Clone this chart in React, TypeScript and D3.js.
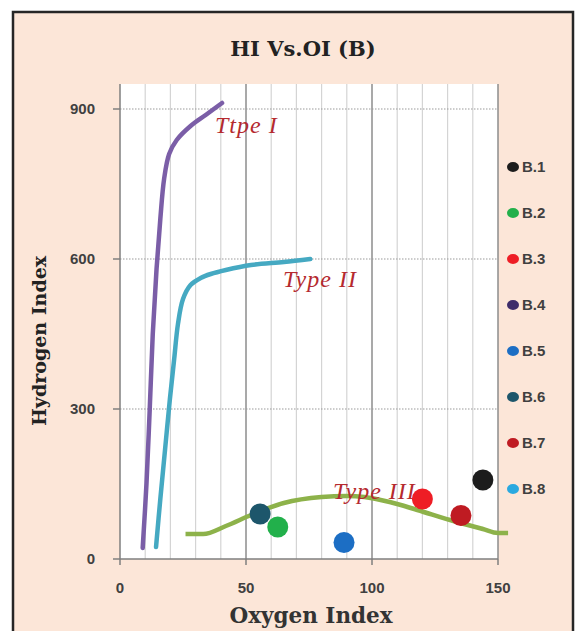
import * as d3 from 'd3'

// Type curves (OI, HI)
const typeI: [number, number][] = [
  [9, 22], [10.5, 150], [11.8, 300], [13, 450], [14.5, 580], [16, 680],
  [17.5, 760], [19.5, 810], [22.5, 838], [28, 866], [34, 888], [40.5, 912],
]
const typeII: [number, number][] = [
  [14.3, 24], [16, 120], [17.9, 220], [19.8, 320], [21.5, 400], [23, 470],
  [25, 520], [28, 548], [32, 562], [36, 570], [42, 578], [52, 588], [65, 594], [75.5, 600],
]
const typeIII: [number, number][] = [
  [26, 50], [33, 50], [42, 66], [52, 88], [65, 112], [80, 124], [90, 126],
  [97, 124], [107, 114], [118, 98], [131, 78], [144, 60], [150, 52], [154, 52],
]

// samples
const samples = ['B.1', 'B.2', 'B.3', 'B.4', 'B.5', 'B.6', 'B.7', 'B.8']
const sampleOI: (number | null)[] = [144, 62.6, 120, null, 88.9, 55.6, 135.3, null]
const sampleHI: (number | null)[] = [158, 64, 120, null, 33, 90, 87, null]
const sampleColors = ['#1c1c1c', '#22b04b', '#ee1d25', '#3e2c6a', '#1c6ec4', '#1d566b', '#bf1b22', '#2aa9e0']

const xTicks = [0, 50, 100, 150]
const yTicks = [0, 300, 600, 900]
const minorX = d3.range(10, 150, 10)

const typeLabels = [
  { text: 'Ttpe I', oi: 37.7, hi: 852 },
  { text: 'Type II', oi: 64.7, hi: 544 },
  { text: 'Type III', oi: 84.5, hi: 120 },
]

export default function App() {
  const width = 576
  const height = 631
  const left = 120
  const right = 498
  const top = 84
  const bottom = 559

  const x = d3.scaleLinear([0, 150], [left, right])
  const y = d3.scaleLinear([0, 900], [bottom, 109])

  const line = d3
    .line<[number, number]>()
    .x((d) => x(d[0]))
    .y((d) => y(d[1]))
    .curve(d3.curveCatmullRom.alpha(0.5))

  const flatLine = d3
    .line<[number, number]>()
    .x((d) => x(d[0]))
    .y((d) => y(d[1]))
    .curve(d3.curveMonotoneX)

  const legendY = d3.scaleLinear([0, 7], [167, 489])

  const sansBold = { fontFamily: 'Liberation Sans, Arial, sans-serif', fontWeight: 700 }
  const serifBold = { fontFamily: 'DejaVu Serif, serif', fontWeight: 700 }

  return (
    <svg
      width={width}
      height={height}
      style={{ position: 'absolute', left: 0, top: 0 }}
    >
      <rect width={width} height={height} fill="#fff" />
      <rect x={13} y={12} width={560} height={640} fill="#fce6d8" stroke="#262626" strokeWidth={2.5} />

      {/* plot area */}
      <rect x={left} y={top} width={right - left} height={bottom - top} fill="#fff" />
      {minorX.map((v) => (
        <line
          key={v}
          x1={x(v)}
          x2={x(v)}
          y1={top}
          y2={bottom}
          stroke={v % 50 === 0 ? '#8c8c8c' : '#d4d4d4'}
          strokeWidth={v % 50 === 0 ? 1.5 : 1.2}
        />
      ))}
      {yTicks.slice(1).map((v) => (
        <line
          key={v}
          x1={left}
          x2={right}
          y1={y(v)}
          y2={y(v)}
          stroke="#9a9a9a"
          strokeWidth={1.2}
          strokeDasharray="1.5,1.5"
        />
      ))}
      <line x1={right} x2={right} y1={top} y2={bottom} stroke="#8c8c8c" strokeWidth={1.5} />
      <line x1={left} x2={left} y1={top} y2={bottom} stroke="#7f7f7f" strokeWidth={1.5} />
      <line x1={left} x2={right} y1={bottom} y2={bottom} stroke="#7f7f7f" strokeWidth={1.5} />

      {/* y ticks */}
      {yTicks.map((v) => (
        <g key={v}>
          <line x1={left - 7} x2={left} y1={y(v)} y2={y(v)} stroke="#7f7f7f" strokeWidth={1.5} />
          <text x={95} y={y(v)} dy="0.35em" textAnchor="end" fontSize={15} fill="#404040" {...sansBold}>
            {v}
          </text>
        </g>
      ))}
      {/* x ticks */}
      {xTicks.map((v) => (
        <g key={v}>
          <line x1={x(v)} x2={x(v)} y1={bottom} y2={bottom + 6} stroke="#7f7f7f" strokeWidth={1.5} />
          <text x={x(v)} y={588} dy="0.35em" textAnchor="middle" fontSize={15} fill="#404040" {...sansBold}>
            {v}
          </text>
        </g>
      ))}

      {/* curves */}
      <path d={line(typeI) ?? ''} fill="none" stroke="#7b5ea7" strokeWidth={4.5} strokeLinecap="round" />
      <path d={line(typeII) ?? ''} fill="none" stroke="#45a9c2" strokeWidth={4.5} strokeLinecap="round" />
      <path d={flatLine(typeIII) ?? ''} fill="none" stroke="#8db24a" strokeWidth={4.5} />

      {typeLabels.map((l) => (
        <text
          key={l.text}
          x={x(l.oi)}
          y={y(l.hi)}
          fontSize={24}
          letterSpacing={1}
          fontStyle="italic"
          fontFamily="Liberation Serif, serif"
          fill="#b52a2f"
        >
          {l.text}
        </text>
      ))}

      {/* sample points */}
      {samples.map((s, i) =>
        sampleOI[i] == null || sampleHI[i] == null ? null : (
          <circle key={s} cx={x(sampleOI[i] as number)} cy={y(sampleHI[i] as number)} r={10.5} fill={sampleColors[i]} />
        )
      )}

      {/* legend */}
      {samples.map((s, i) => (
        <g key={s}>
          <ellipse cx={513} cy={legendY(i)} rx={6} ry={5} fill={sampleColors[i]} />
          <text x={522} y={legendY(i)} dy="0.35em" fontSize={15} fill="#404040" {...sansBold}>
            {s}
          </text>
        </g>
      ))}

      {/* titles */}
      <text x={303} y={56} textAnchor="middle" fontSize={21} fill="#222" {...serifBold}>
        HI Vs.OI (B)
      </text>
      <text x={311} y={623} textAnchor="middle" fontSize={21.5} fill="#333" {...serifBold}>
        Oxygen Index
      </text>
      <text
        transform={`translate(46,341) rotate(-90)`}
        textAnchor="middle"
        fontSize={19}
        fill="#222"
        {...serifBold}
      >
        Hydrogen Index
      </text>
    </svg>
  )
}
